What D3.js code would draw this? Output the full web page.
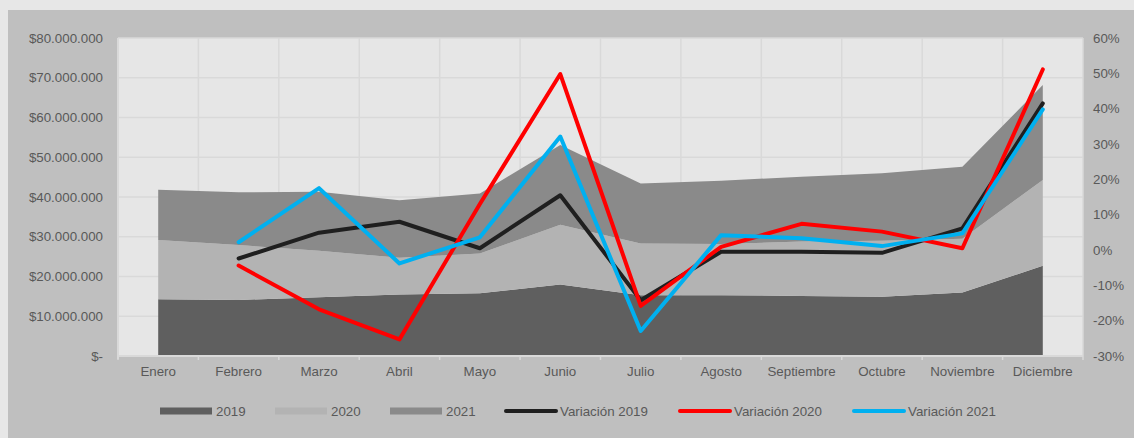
<!DOCTYPE html>
<html>
<head>
<meta charset="utf-8">
<script src="https://cdn.jsdelivr.net/npm/d3@7"></script>
<style>
  html, body { margin: 0; padding: 0; background: #e7e7e7; }
  svg { display: block; }
  text { font-family: "Liberation Sans", Arial, sans-serif; }
</style>
</head>
<body>
<svg id="chart" width="1134" height="438"></svg>
<script>
const months = ["Enero", "Febrero", "Marzo", "Abril", "Mayo", "Junio", "Julio",
  "Agosto", "Septiembre", "Octubre", "Noviembre", "Diciembre"];

// montos mensuales (áreas apiladas)
const ventas2019 = [14.3, 14.1, 14.8, 15.5, 15.8, 18.0, 15.3, 15.3, 15.1, 14.9, 16.0, 22.7].map(v => v * 1e6);
const ventas2020 = [14.9, 13.8, 11.7, 9.2, 10.0, 15.0, 13.0, 12.9, 13.7, 14.1, 13.5, 21.6].map(v => v * 1e6);
const ventas2021 = [12.6, 13.3, 14.8, 14.5, 15.1, 20.1, 15.1, 15.9, 16.3, 17.0, 18.1, 23.9].map(v => v * 1e6);

// variaciones (eje derecho), sin dato en enero
const var2019 = [null, -2.4, 4.9, 8.0, 0.5, 15.5, -14.2, -0.5, -0.5, -0.8, 6.1, 41.5];
const var2020 = [null, -4.4, -16.8, -25.3, 13.0, 49.8, -15.8, 0.9, 7.4, 5.2, 0.5, 51.1];
const var2021 = [null, 2.2, 17.5, -3.8, 3.6, 32.1, -22.9, 4.2, 3.3, 1.1, 4.7, 39.8];

const leftTicks = [0, 10, 20, 30, 40, 50, 60, 70, 80].map(v => v * 1e6);
const rightTicks = [-30, -20, -10, 0, 10, 20, 30, 40, 50, 60];

const svg = d3.select("#chart");
const width = 1134, height = 438;
const plot = { left: 118, right: 1083, top: 38, bottom: 356 };
const textColor = "#595959";
const gridColor = "#d9d9d9";
const fs = 13.33;

// fondo del gráfico
svg.append("rect").attr("x", 8).attr("y", 10).attr("width", width - 8).attr("height", height - 10)
  .attr("fill", "#bfbfbf");
svg.append("rect").attr("x", plot.left).attr("y", plot.top)
  .attr("width", plot.right - plot.left).attr("height", plot.bottom - plot.top)
  .attr("fill", "#e6e6e6");

const x = d3.scaleBand().domain(months).range([plot.left, plot.right]).padding(0);
const cx = m => x(m) + x.bandwidth() / 2;
const yL = d3.scaleLinear().domain([0, 80e6]).range([plot.bottom, plot.top]);
const yR = d3.scaleLinear().domain([-30, 60]).range([plot.bottom, plot.top]);

// grilla
svg.append("g")
  .selectAll("line").data(leftTicks.slice(1)).join("line")
  .attr("x1", plot.left).attr("x2", plot.right)
  .attr("y1", d => yL(d)).attr("y2", d => yL(d))
  .attr("stroke", gridColor).attr("stroke-width", 1.5);
svg.append("g")
  .selectAll("line").data(months.slice(1).concat(["__end"])).join("line")
  .attr("x1", d => d === "__end" ? plot.right : x(d))
  .attr("x2", d => d === "__end" ? plot.right : x(d))
  .attr("y1", plot.top).attr("y2", plot.bottom)
  .attr("stroke", gridColor).attr("stroke-width", 1.5);

// áreas apiladas
const table = months.map((m, i) => ({ month: m, a2019: ventas2019[i], a2020: ventas2020[i], a2021: ventas2021[i] }));
const stack = d3.stack().keys(["a2019", "a2020", "a2021"]);
const layers = stack(table);
const areaColors = { a2019: "#5f5f5f", a2020: "#b3b3b3", a2021: "#8a8a8a" };
const area = d3.area()
  .x(d => cx(d.data.month))
  .y0(d => yL(d[0]))
  .y1(d => yL(d[1]));
svg.append("g").selectAll("path").data(layers).join("path")
  .attr("d", area)
  .attr("fill", d => areaColors[d.key]);

// ejes
const xAxis = svg.append("g").attr("transform", `translate(0,${plot.bottom})`);
xAxis.append("line").attr("x1", plot.left).attr("x2", plot.right)
  .attr("stroke", gridColor).attr("stroke-width", 2);
xAxis.selectAll("line.tick").data(months.concat(["__end"])).join("line")
  .attr("class", "tick")
  .attr("x1", d => d === "__end" ? plot.right : x(d))
  .attr("x2", d => d === "__end" ? plot.right : x(d))
  .attr("y1", 0).attr("y2", 4)
  .attr("stroke", gridColor).attr("stroke-width", 1.5);
xAxis.selectAll("text").data(months).join("text")
  .attr("x", d => cx(d)).attr("y", 20)
  .attr("text-anchor", "middle")
  .attr("font-size", fs).attr("fill", textColor)
  .text(d => d);

svg.append("line").attr("x1", plot.left).attr("x2", plot.left)
  .attr("y1", plot.top).attr("y2", plot.bottom + 3)
  .attr("stroke", gridColor).attr("stroke-width", 2);

const fmtMoney = v => v === 0 ? "$-" : "$" + d3.format(",")(v).replace(/,/g, ".");
svg.append("g").selectAll("text").data(leftTicks).join("text")
  .attr("x", 103).attr("y", d => yL(d) + 4.5)
  .attr("text-anchor", "end")
  .attr("font-size", fs).attr("fill", textColor)
  .text(fmtMoney);

svg.append("g").selectAll("text").data(rightTicks).join("text")
  .attr("x", 1093).attr("y", d => yR(d) + 4.5)
  .attr("text-anchor", "start")
  .attr("font-size", fs).attr("fill", textColor)
  .text(d => d + "%");

// líneas de variación
const lineSeries = [
  { name: "Variación 2019", values: var2019, color: "#1f1f1f" },
  { name: "Variación 2020", values: var2020, color: "#ff0000" },
  { name: "Variación 2021", values: var2021, color: "#00b0f0" }
];
const line = d3.line()
  .defined(d => d.v != null)
  .x(d => cx(d.m))
  .y(d => yR(d.v));
svg.append("g").selectAll("path").data(lineSeries).join("path")
  .attr("d", s => line(s.values.map((v, i) => ({ m: months[i], v }))))
  .attr("fill", "none")
  .attr("stroke", s => s.color)
  .attr("stroke-width", 4)
  .attr("stroke-linejoin", "round")
  .attr("stroke-linecap", "round");

// leyenda
const legendItems = [
  { name: "2019", type: "area", color: areaColors.a2019, x: 160 },
  { name: "2020", type: "area", color: areaColors.a2020, x: 275 },
  { name: "2021", type: "area", color: areaColors.a2021, x: 390 },
  { name: lineSeries[0].name, type: "line", color: lineSeries[0].color, x: 504 },
  { name: lineSeries[1].name, type: "line", color: lineSeries[1].color, x: 678 },
  { name: lineSeries[2].name, type: "line", color: lineSeries[2].color, x: 852 }
];
const legendY = 411;
const lg = svg.append("g").selectAll("g").data(legendItems).join("g")
  .attr("transform", d => `translate(${d.x},${legendY})`);
lg.filter(d => d.type === "area").append("rect")
  .attr("x", 0).attr("y", -3.5).attr("width", 52).attr("height", 7)
  .attr("fill", d => d.color);
lg.filter(d => d.type === "line").append("line")
  .attr("x1", 2).attr("x2", 52).attr("y1", 0).attr("y2", 0)
  .attr("stroke", d => d.color).attr("stroke-width", 4).attr("stroke-linecap", "round");
lg.append("text")
  .attr("x", 56).attr("y", 4.5)
  .attr("font-size", fs).attr("fill", textColor)
  .text(d => d.name);
</script>
</body>
</html>
